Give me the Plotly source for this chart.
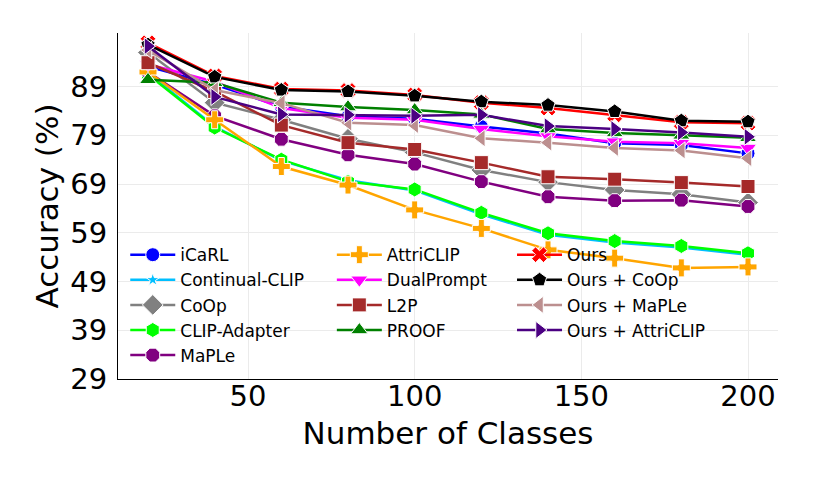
import plotly.graph_objects as go

classes = [20, 40, 60, 80, 100, 120, 140, 160, 180, 200]

icarl = [93.1, 89.4, 84.9, 82.9, 82.4, 80.8, 79.4, 77.4, 77.0, 75.3]
continual_clip = [91.8, 80.8, 73.8, 69.8, 67.7, 62.8, 58.6, 57.0, 56.0, 54.5]
coop = [96.0, 85.7, 82.2, 78.3, 75.5, 71.9, 69.4, 67.8, 66.9, 65.2]
clip_adapter = [91.5, 80.6, 74.0, 69.5, 67.9, 63.1, 58.9, 57.3, 56.3, 54.8]
maple = [92.0, 83.0, 78.2, 75.0, 73.1, 69.5, 66.4, 65.6, 65.7, 64.4]
attriclip = [92.0, 82.2, 72.6, 68.8, 63.7, 59.9, 55.5, 53.8, 51.8, 52.0]
dualprompt = [93.6, 90.0, 84.6, 82.6, 82.2, 80.3, 78.8, 77.7, 77.4, 76.4]
l2p = [93.9, 88.0, 81.1, 77.5, 76.1, 73.4, 70.5, 70.0, 69.3, 68.5]
proof = [90.4, 89.8, 85.7, 84.8, 84.2, 83.3, 80.3, 79.5, 79.0, 78.5]
ours = [98.0, 91.2, 88.5, 88.2, 87.3, 85.7, 84.6, 83.2, 81.7, 81.5]
ours_coop = [97.6, 91.0, 88.3, 88.0, 87.1, 85.9, 85.2, 83.9, 82.0, 81.8]
ours_maple = [96.5, 88.3, 85.6, 81.6, 81.1, 78.4, 77.5, 76.4, 75.9, 74.3]
ours_attriclip = [97.3, 86.9, 83.3, 83.2, 83.0, 83.2, 80.9, 80.3, 79.6, 78.7]

yticks = [29, 39, 49, 59, 69, 79, 89]
xticks = [50, 100, 150, 200]

# name, values, colour, symbol, size, legend column
series = [
    ("iCaRL", icarl, "blue", "circle", 14, "legend"),
    ("Continual-CLIP", continual_clip, "deepskyblue", "star", 10, "legend"),
    ("CoOp", coop, "gray", "diamond", 16, "legend"),
    ("CLIP-Adapter", clip_adapter, "lime", "hexagon", 15, "legend"),
    ("MaPLe", maple, "purple", "octagon", 15, "legend"),
    ("AttriCLIP", attriclip, "orange", "cross", 15, "legend2"),
    ("DualPrompt", dualprompt, "magenta", "triangle-down", 15, "legend2"),
    ("L2P", l2p, "brown", "square", 14, "legend2"),
    ("PROOF", proof, "green", "triangle-up", 15, "legend2"),
    ("Ours", ours, "red", "x", 14, "legend3"),
    ("Ours + CoOp", ours_coop, "black", "pentagon", 15, "legend3"),
    ("Ours + MaPLe", ours_maple, "rosybrown", "triangle-left", 15, "legend3"),
    ("Ours + AttriCLIP", ours_attriclip, "indigo", "triangle-right", 15, "legend3"),
]

fig = go.Figure()
for name, vals, col, sym, sz, leg in series:
    fig.add_trace(go.Scatter(
        x=classes, y=vals, name=name, mode="lines+markers",
        line=dict(color=col, width=2.5),
        marker=dict(symbol=sym, size=sz, color=col,
                    line=dict(color="white", width=1)),
        legend=leg, legendgroup=name,
    ))

font = "DejaVu Sans"
leg_style = dict(font=dict(family=font, size=17, color="black"),
                 bgcolor="rgba(255,255,255,0)", yanchor="top", y=0.41,
                 tracegroupgap=0, itemwidth=45)

# page body adds an 8px offset, margins below allow for it
fig.update_layout(
    width=814, height=488,
    margin=dict(l=110, r=44, t=25, b=117),
    plot_bgcolor="white", paper_bgcolor="white",
    font=dict(family=font, color="black"),
    legend=dict(x=0.011, **leg_style),
    legend2=dict(x=0.324, **leg_style),
    legend3=dict(x=0.597, **leg_style),
    xaxis=dict(
        range=[11, 209], tickvals=xticks,
        tickfont=dict(size=29), ticks="", ticklabelstandoff=-9,
        showgrid=True, gridcolor="#ebebeb", gridwidth=1,
        showline=True, linecolor="black", linewidth=1.2, zeroline=False,
        title=dict(text="Number of Classes", font=dict(size=31), standoff=10),
    ),
    yaxis=dict(
        range=[29, 100], tickvals=yticks,
        tickfont=dict(size=29), ticks="", ticklabelstandoff=4,
        showgrid=True, gridcolor="#ebebeb", gridwidth=1,
        showline=True, linecolor="black", linewidth=1.2, zeroline=False,
        title=dict(text="Accuracy (%)", font=dict(size=31), standoff=2),
    ),
)

fig.write_html("out.html")
